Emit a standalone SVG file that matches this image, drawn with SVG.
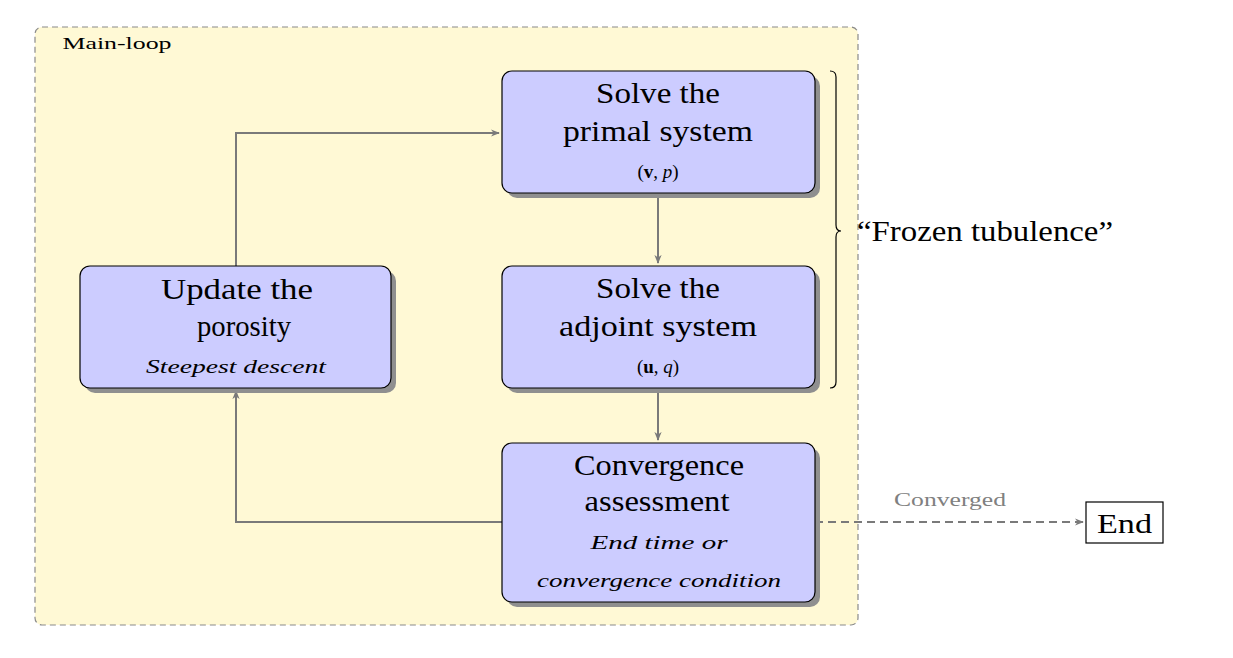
<svg xmlns="http://www.w3.org/2000/svg" width="1233" height="658" viewBox="0 0 1233 658">
<style>
.box{fill:#ccccff;stroke:#000;stroke-width:1.2}
.shadow{fill:#8f8f8f}
text{font-family:'Liberation Serif','Times New Roman',Times,serif}
.t{fill:#000;text-anchor:middle}
.big{font-size:29px}
.small{font-size:19px}
.it{font-style:italic;font-size:19px}
.conn{fill:none;stroke:#7a7a7a;stroke-width:2}
</style>
<defs>
<marker id="arr" viewBox="0 0 10 10" refX="9" refY="5" markerWidth="9" markerHeight="9" markerUnits="userSpaceOnUse" orient="auto">
<path d="M0,1 L10,5 L0,9 L3,5 Z" fill="#7a7a7a"/>
</marker>
</defs>
<rect width="1233" height="658" fill="#fff"/>
<g id="main-loop">
<rect x="35" y="27" width="823" height="598" rx="7" fill="#fff9d5" stroke="#8a8a8a" stroke-width="1.2" stroke-dasharray="6,4"/>
<text class="t" x="117" y="49" font-family="Liberation Serif, serif" font-size="17" textLength="109" lengthAdjust="spacingAndGlyphs">Main-loop</text>
</g>
<g id="connectors">
<path class="conn" d="M236,266 V133 H499" marker-end="url(#arr)"/>
<path class="conn" d="M658,193 V263" marker-end="url(#arr)"/>
<path class="conn" d="M658,388 V440" marker-end="url(#arr)"/>
<path class="conn" d="M502,522 H236 V391" marker-end="url(#arr)"/>
<path class="conn" d="M815,522 H1083" stroke-dasharray="8,5" marker-end="url(#arr)"/>
<text class="t" x="950" y="506" font-size="18" style="fill:#808080" textLength="112" lengthAdjust="spacingAndGlyphs">Converged</text>
</g>
<g id="primal">
<rect class="shadow" x="507" y="76" width="313" height="122" rx="10"/>
<rect class="box" x="502" y="71" width="313" height="122" rx="10"/>
<text class="t big" x="658" y="103" textLength="124" lengthAdjust="spacingAndGlyphs">Solve the</text>
<text class="t big" x="658" y="141" textLength="190" lengthAdjust="spacingAndGlyphs">primal system</text>
<text class="t small" x="658" y="178">(<tspan font-weight="bold">v</tspan>, <tspan font-style="italic">p</tspan>)</text>
</g>
<g id="adjoint">
<rect class="shadow" x="507" y="271" width="313" height="122" rx="10"/>
<rect class="box" x="502" y="266" width="313" height="122" rx="10"/>
<text class="t big" x="658" y="298" textLength="124" lengthAdjust="spacingAndGlyphs">Solve the</text>
<text class="t big" x="658" y="336" textLength="198" lengthAdjust="spacingAndGlyphs">adjoint system</text>
<text class="t small" x="658" y="373">(<tspan font-weight="bold">u</tspan>, <tspan font-style="italic">q</tspan>)</text>
</g>
<g id="update">
<rect class="shadow" x="85" y="271" width="311" height="122" rx="10"/>
<rect class="box" x="80" y="266" width="311" height="122" rx="10"/>
<text class="t big" x="237" y="299" textLength="152" lengthAdjust="spacingAndGlyphs">Update the</text>
<text class="t big" x="244" y="336" textLength="94" lengthAdjust="spacingAndGlyphs">porosity</text>
<text class="t it" x="236" y="373" textLength="180" lengthAdjust="spacingAndGlyphs">Steepest descent</text>
</g>
<g id="convergence">
<rect class="shadow" x="507" y="448" width="313" height="159" rx="10"/>
<rect class="box" x="502" y="443" width="313" height="159" rx="10"/>
<text class="t big" x="659" y="475" textLength="170" lengthAdjust="spacingAndGlyphs">Convergence</text>
<text class="t big" x="657" y="511" textLength="145" lengthAdjust="spacingAndGlyphs">assessment</text>
<text class="t it" x="659" y="549" textLength="137" lengthAdjust="spacingAndGlyphs">End time or</text>
<text class="t it" x="659" y="587" textLength="244" lengthAdjust="spacingAndGlyphs">convergence condition</text>
</g>
<g id="end">
<rect x="1086" y="502" width="77" height="41" fill="#fff" stroke="#000" stroke-width="1.2"/>
<text class="t" x="1124.5" y="533" font-size="28" textLength="55" lengthAdjust="spacingAndGlyphs">End</text>
</g>
<g id="frozen">
<path d="M830,71 Q836,71 836,77 V225 Q836,231 841,231 Q836,231 836,237 V382 Q836,388 830,388" fill="none" stroke="#000" stroke-width="1.2"/>
<text class="t big" x="985" y="241" textLength="256" lengthAdjust="spacingAndGlyphs">“Frozen tubulence”</text>
</g>
</svg>
